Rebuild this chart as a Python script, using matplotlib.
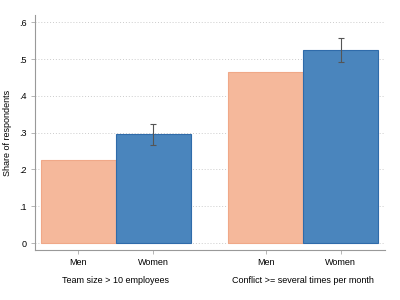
import matplotlib
matplotlib.use("Agg")
from matplotlib import pyplot as plt

# values
groups = ['Team size > 10 employees', 'Conflict >= several times per month']
bar_labels = ['Men', 'Men', 'Women', 'Women']
men = [0.225, 0.465]
women = [0.296, 0.524]
women_lo = [0.266, 0.492]
women_hi = [0.323, 0.557]
yticks = [0, 0.1, 0.2, 0.3, 0.4, 0.5, 0.6]
ytick_labels = ['0', '.1', '.2', '.3', '.4', '.5', '.6']

plt.rcParams['font.family'] = ['Liberation Sans', 'DejaVu Sans']

fig = plt.figure(figsize=(4, 3), dpi=100)
ax = fig.add_axes([0.0875, 0.1667, 0.875, 0.7833])

men_x = [0.5, 3.0]
women_x = [1.5, 4.0]
ax.bar(men_x, men, width=1.0, color='#F5B89B', edgecolor='#F0A888', linewidth=0.8, zorder=2)
ax.bar(women_x, women, width=1.0, color='#4A85BD', edgecolor='#2F6BAA', linewidth=0.8, zorder=2)

err_low = [w - lo for w, lo in zip(women, women_lo)]
err_high = [hi - w for w, hi in zip(women, women_hi)]
ax.errorbar(women_x, women, yerr=[err_low, err_high], fmt='none', ecolor='#555555',
            elinewidth=0.8, capsize=2.5, capthick=0.8, zorder=3)

ax.set_xlim(-0.08, 4.59)
ax.set_ylim(-0.019, 0.62)
ax.set_yticks(yticks)
ax.set_yticklabels(ytick_labels)
ax.yaxis.grid(True, linestyle=(0, (1, 2)), color='#cccccc', linewidth=0.7, zorder=0)
ax.set_xticks(men_x + women_x)
ax.set_xticklabels(bar_labels)
ax.tick_params(axis='both', labelsize=6.5, color='#aaaaaa', length=3, width=0.6, pad=3)
ax.set_ylabel('Share of respondents', fontsize=6.5, labelpad=5)

for side in ['top', 'right']:
    ax.spines[side].set_visible(False)
for side in ['left', 'bottom']:
    ax.spines[side].set_color('#999999')
    ax.spines[side].set_linewidth(0.8)

for center, label in zip([1.0, 3.5], groups):
    ax.text(center, -0.13, label, transform=ax.get_xaxis_transform(),
            ha='center', va='center', fontsize=6.5)

fig.savefig('out.png', dpi=100)
